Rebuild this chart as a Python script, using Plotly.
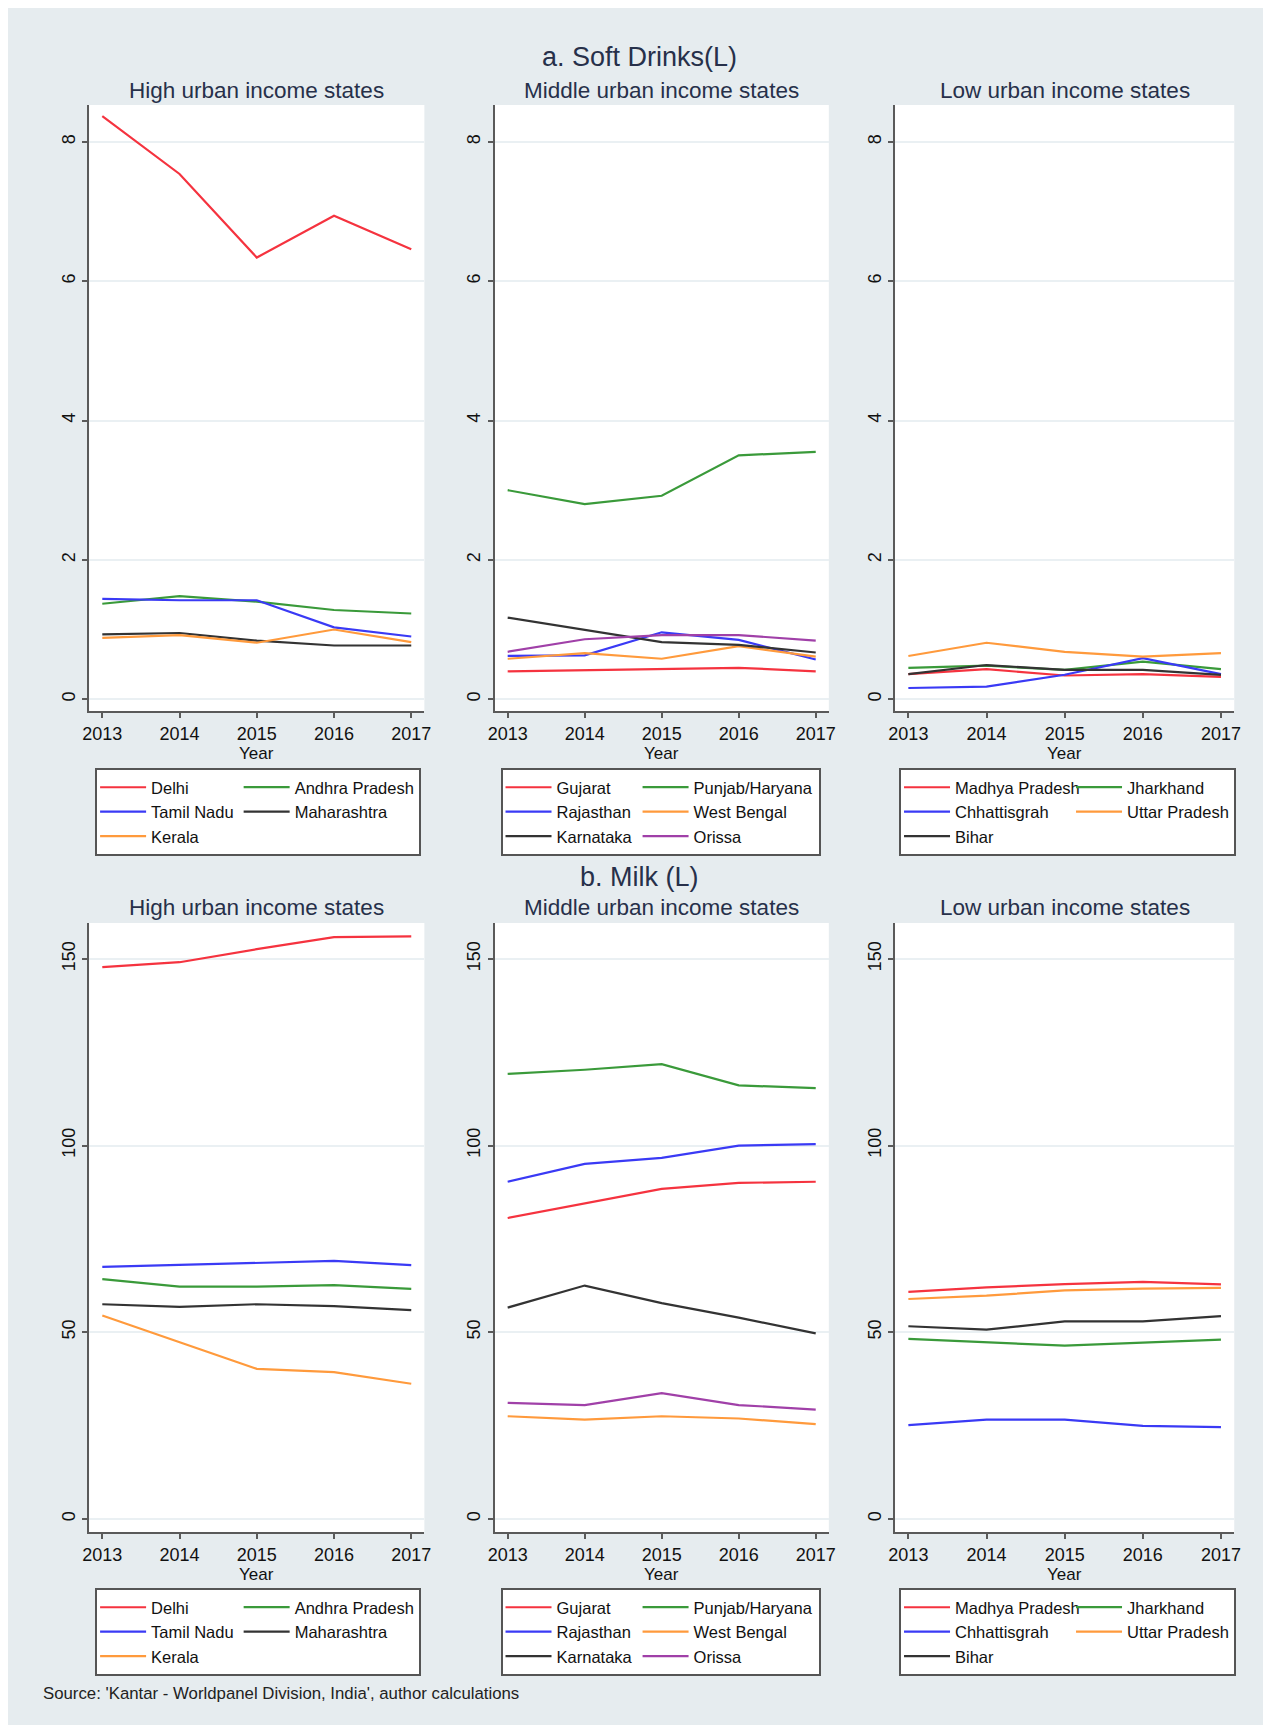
import plotly.graph_objects as go

# page body keeps an 8px margin, so the figure is 16px smaller than the window
W, H = 1255, 1717

years = [2013, 2014, 2015, 2016, 2017]

# a. Soft drinks (litres)
soft_high = {
    "Delhi": [8.37, 7.54, 6.34, 6.94, 6.46],
    "Andhra Pradesh": [1.37, 1.48, 1.40, 1.28, 1.23],
    "Tamil Nadu": [1.44, 1.42, 1.42, 1.03, 0.90],
    "Maharashtra": [0.93, 0.95, 0.84, 0.77, 0.77],
    "Kerala": [0.88, 0.92, 0.81, 1.00, 0.82],
}
soft_mid = {
    "Gujarat": [0.40, 0.42, 0.43, 0.45, 0.40],
    "Punjab/Haryana": [3.00, 2.80, 2.92, 3.50, 3.55],
    "Rajasthan": [0.62, 0.63, 0.96, 0.85, 0.57],
    "West Bengal": [0.58, 0.66, 0.58, 0.76, 0.61],
    "Karnataka": [1.17, 1.00, 0.82, 0.78, 0.67],
    "Orissa": [0.68, 0.86, 0.92, 0.92, 0.84],
}
soft_low = {
    "Madhya Pradesh": [0.36, 0.43, 0.34, 0.36, 0.32],
    "Jharkhand": [0.45, 0.48, 0.42, 0.54, 0.43],
    "Chhattisgrah": [0.16, 0.18, 0.35, 0.59, 0.36],
    "Uttar Pradesh": [0.62, 0.81, 0.68, 0.61, 0.66],
    "Bihar": [0.36, 0.49, 0.42, 0.42, 0.35],
}

# b. Milk (litres)
milk_high = {
    "Delhi": [147.8, 149.1, 152.6, 155.8, 156.0],
    "Andhra Pradesh": [64.2, 62.2, 62.2, 62.6, 61.6],
    "Tamil Nadu": [67.5, 68.1, 68.6, 69.1, 68.0],
    "Maharashtra": [57.5, 56.8, 57.5, 57.0, 55.9],
    "Kerala": [54.5, 47.3, 40.2, 39.3, 36.2],
}
milk_mid = {
    "Gujarat": [80.6, 84.4, 88.4, 90.0, 90.3],
    "Punjab/Haryana": [119.2, 120.3, 121.8, 116.1, 115.4],
    "Rajasthan": [90.3, 95.1, 96.7, 100.0, 100.4],
    "West Bengal": [27.5, 26.6, 27.5, 26.9, 25.4],
    "Karnataka": [56.6, 62.5, 57.8, 53.9, 49.7],
    "Orissa": [31.1, 30.5, 33.7, 30.5, 29.3],
}
milk_low = {
    "Madhya Pradesh": [60.8, 62.0, 62.9, 63.5, 62.8],
    "Jharkhand": [48.2, 47.2, 46.4, 47.2, 48.0],
    "Chhattisgrah": [25.1, 26.6, 26.6, 24.9, 24.6],
    "Uttar Pradesh": [58.9, 59.8, 61.2, 61.7, 61.9],
    "Bihar": [51.6, 50.7, 52.9, 52.9, 54.3],
}

panel_titles = ["High urban income states", "Middle urban income states", "Low urban income states"]
section_titles = ["a. Soft Drinks(L)", "b. Milk (L)"]
source_note = "Source: 'Kantar - Worldpanel Division, India', author calculations"

soft_ticks = [0, 2, 4, 6, 8]
milk_ticks = [0, 50, 100, 150]

# stata-like palette, by position in each legend
palette = ["#f5333f", "#3a9a3a", "#3a3af5", "#333333", "#ff9a3c", "#a040a8"]
pos_colors = {
    "Delhi": 0, "Andhra Pradesh": 1, "Tamil Nadu": 2, "Maharashtra": 3, "Kerala": 4,
    "Gujarat": 0, "Punjab/Haryana": 1, "Rajasthan": 2, "West Bengal": 4, "Karnataka": 3, "Orissa": 5,
    "Madhya Pradesh": 0, "Jharkhand": 1, "Chhattisgrah": 2, "Uttar Pradesh": 4, "Bihar": 3,
}

FONT = "Liberation Sans, Arial, sans-serif"
TITLE_COL = "#27304a"
TEXT_COL = "#111111"

# pixel layout (figure coordinates)
xcols = [(75, 414), (485, 823), (890, 1233)]
yrows = [(97, 703), (915, 1524)]
leg_x = [81, 491, 894]
leg_y = [760, 1580]
col1_w = [None, None, 111]  # stata fixes first legend column width
title_y = [49, 869]
sub_y = [82, 899]
year_y = [745, 1566]

def px_x(v):
    return v / W

def px_y(v):
    return 1 - v / H

fig = go.Figure()

panels = [(0, soft_high), (0, soft_mid), (0, soft_low), (1, milk_high), (1, milk_mid), (1, milk_low)]
annotations = []
for i, (row, data) in enumerate(panels):
    col = i % 3
    n = i + 1
    ax = "" if n == 1 else str(n)
    leg = "legend" if n == 1 else "legend%d" % n
    for k, (state, vals) in enumerate(data.items()):
        grp = "c1" if k % 2 == 0 else "c2"
        tr = dict(
            x=years, y=vals, mode="lines", name=state,
            line=dict(color=palette[pos_colors[state]], width=2.2),
            xaxis="x" + ax, yaxis="y" + ax, legend=leg, legendgroup=grp,
        )
        if grp == "c1" and col1_w[col]:
            tr["legendwidth"] = col1_w[col]
        fig.add_trace(go.Scatter(**tr))

    x0, x1 = xcols[col]
    y0, y1 = yrows[row]
    axis_common = dict(
        showline=True, linecolor="#5a5a5a", linewidth=2,
        ticks="outside", ticklen=5, tickwidth=1.5, tickcolor="#5a5a5a",
        tickfont=dict(family=FONT, size=18, color=TEXT_COL),
        zeroline=False,
    )
    fig.layout["xaxis" + ax] = dict(
        domain=[px_x(x0), px_x(x1)], anchor="y" + ax,
        range=[2012.83, 2017.17], tickvals=years, showgrid=False,
        **axis_common,
    )
    if row == 0:
        yr, tv = [-0.17, 8.53], soft_ticks
    else:
        yr, tv = [-3.5, 159.6], milk_ticks
    fig.layout["yaxis" + ax] = dict(
        domain=[px_y(y1), px_y(y0)], anchor="x" + ax,
        range=yr, tickvals=tv, tickangle=-90,
        showgrid=True, gridcolor="#eaf0f3", gridwidth=2,
        **axis_common,
    )
    fig.layout[leg] = dict(
        x=px_x(leg_x[col]), y=px_y(leg_y[row]), xanchor="left", yanchor="top",
        orientation="h", traceorder="grouped", itemwidth=46,
        bgcolor="white", bordercolor="#555555", borderwidth=2,
        font=dict(family=FONT, size=16.5, color=TEXT_COL),
        tracegroupgap=0,
    )
    # axis title "Year" sits tight under the tick labels
    annotations.append(dict(
        text="Year", x=2015, y=px_y(year_y[row]), xref="x" + ax, yref="paper",
        showarrow=False, xanchor="center", yanchor="middle",
        font=dict(family=FONT, size=17, color=TEXT_COL),
    ))

for row, t in enumerate(section_titles):
    annotations.append(dict(
        text=t, x=px_x(632), y=px_y(title_y[row]), xref="paper", yref="paper",
        showarrow=False, xanchor="center", yanchor="middle",
        font=dict(family=FONT, size=27, color=TITLE_COL),
    ))
    for col, pt in enumerate(panel_titles):
        x0, x1 = xcols[col]
        annotations.append(dict(
            text=pt, x=px_x((x0 + x1) / 2), y=px_y(sub_y[row]), xref="paper", yref="paper",
            showarrow=False, xanchor="center", yanchor="middle",
            font=dict(family=FONT, size=22.5, color=TITLE_COL),
        ))
annotations.append(dict(
    text=source_note, x=px_x(26), y=px_y(1685), xref="paper", yref="paper",
    showarrow=False, xanchor="left", yanchor="middle",
    font=dict(family=FONT, size=16.8, color="#222222"),
))

fig.update_layout(
    width=W, height=H,
    margin=dict(l=0, r=0, t=0, b=0),
    paper_bgcolor="#e6ecef", plot_bgcolor="white",
    showlegend=True,
    annotations=annotations,
)

fig.write_html("out.html")
